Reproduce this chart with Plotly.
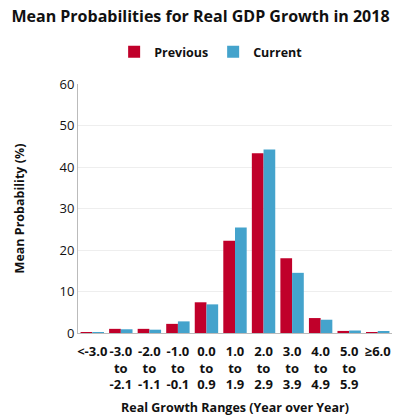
import plotly.graph_objects as go

categories = ["<-3.0", "-3.0<br>to<br>-2.1", "-2.0<br>to<br>-1.1", "-1.0<br>to<br>-0.1",
              "0.0<br>to<br>0.9", "1.0<br>to<br>1.9", "2.0<br>to<br>2.9", "3.0<br>to<br>3.9",
              "4.0<br>to<br>4.9", "5.0<br>to<br>5.9", "≥6.0"]
previous = [0.2, 1.0, 1.0, 2.2, 7.4, 22.2, 43.3, 18.0, 3.6, 0.5, 0.1]
current = [0.1, 0.9, 0.8, 2.8, 6.9, 25.4, 44.2, 14.5, 3.2, 0.6, 0.3]
y_ticks = [0, 10, 20, 30, 40, 50, 60]

FONT = "Open Sans"
fig = go.Figure()
fig.add_trace(go.Bar(x=categories, y=previous, name="<b>Previous</b>",
                     marker=dict(color="#C0002A", line=dict(width=0))))
fig.add_trace(go.Bar(x=categories, y=current, name="<b>Current</b>",
                     marker=dict(color="#44A3CC", line=dict(width=0))))

fig.update_layout(
    width=401, height=416,
    margin=dict(l=78, r=9, t=84, b=83, autoexpand=False),
    paper_bgcolor="white", plot_bgcolor="white",
    font=dict(family=FONT, color="#111111"),
    title=dict(text="<b>Mean Probabilities for Real GDP Growth in 2018</b>",
               x=0.5, xanchor="center", y=0.975, yanchor="top",
               font=dict(size=16, family=FONT, color="#111111")),
    legend=dict(orientation="h", x=0.424, xanchor="center",
                y=1.128, yanchor="middle",
                font=dict(size=12.5, family=FONT), itemwidth=30,
                traceorder="normal"),
    bargap=0.18, bargroupgap=0.0,
    xaxis=dict(type="category", showline=True, linecolor="#BBBBBB", linewidth=1,
               automargin=False,
               ticks="outside", ticklen=6, tickcolor="rgba(0,0,0,0)",
               tickfont=dict(size=13, family=FONT),
               tickprefix="<b>", ticksuffix="</b>",
               title=dict(text="<b>Real Growth Ranges (Year over Year)</b>",
                          font=dict(size=12.5), standoff=18)),
    yaxis=dict(range=[0, 60], tickvals=y_ticks, showline=True, linecolor="#BBBBBB",
               linewidth=1, gridcolor="#EEEEEE", zeroline=False, ticks="",
               automargin=False,
               tickfont=dict(size=13, family=FONT),
               tickprefix="<b>", ticksuffix="</b>",
               title=dict(text="<b>Mean Probability (%)</b>", font=dict(size=12.5),
                          standoff=32)),
)

fig.write_html("out.html")
